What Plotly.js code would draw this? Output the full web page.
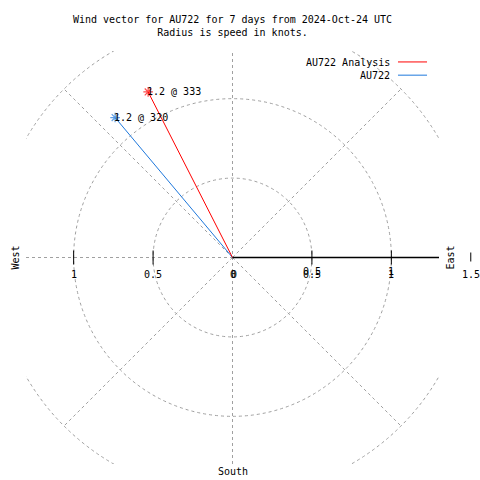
<!DOCTYPE html>
<html>
<head>
<meta charset="utf-8">
<script src="https://cdn.plot.ly/plotly-3.0.1.min.js"></script>
<style>html,body{margin:0;padding:0;background:#fff;}#chart{width:480px;height:480px;}</style>
</head>
<body>
<div id="chart"></div>
<script>
// ---- data ----
const seriesNames = ['AU722 Analysis', 'AU722'];
const directions = [333, 320];          // degrees, clockwise from north
const speeds = [1.17, 1.15];            // knots
const pointLabels = ['1.2 @ 333', '1.2 @ 320'];
const tickValues = [-1, -0.5, 0, 0.5, 1, 1.5];
const tickLabels = ['1', '0.5', '0', '0.5', '1', '1.5'];
const compassLabels = ['West', 'East', 'South'];
const gridRadii = [0.5, 1, 1.5];
const spokeAngles = [45, 135, 225, 315];
const titleLines = ['Wind vector for AU722 for 7 days from 2024-Oct-24 UTC', 'Radius is speed in knots.'];

// ---- styles ----
const colors = ['#ff0000', '#1e78dc'];
const FONT = 'DejaVu Sans Mono, Liberation Mono, monospace';
const gridLine = {color: '#a0a0a0', width: 1, dash: '3px,3px'};
const R = 1.3;
const PLOT_PX = 413;

function toXY(dir, r) {
  const t = dir * Math.PI / 180;
  return [r * Math.sin(t), r * Math.cos(t)];
}
// data x -> paper fraction (for items outside the plotted range)
function toPaperX(v) { return (v + R) / (2 * R); }

const traces = [];
const order = [1, 0];
order.forEach(i => {
  const [ex, ey] = toXY(directions[i], speeds[i]);
  traces.push({
    type: 'scatter', mode: 'lines+markers',
    x: [0, ex], y: [0, ey],
    line: {color: colors[i], width: 1},
    marker: {symbol: 'asterisk-open', size: [0, 8], color: colors[i], line: {color: colors[i], width: 1.2}},
    name: seriesNames[i], showlegend: false, hoverinfo: 'skip'
  });
});

const inRange = tickValues.filter(v => v !== 0 && Math.abs(v) <= R);
const outRange = tickValues.filter(v => Math.abs(v) > R);
// tick marks on the horizontal axis
traces.push({
  type: 'scatter', mode: 'markers',
  x: inRange, y: inRange.map(() => 0),
  marker: {symbol: 'line-ns-open', size: 10, color: '#000', line: {color: '#000', width: 1}},
  cliponaxis: false, showlegend: false, hoverinfo: 'skip'
});

const shapes = [];
gridRadii.forEach(r => shapes.push({type: 'circle', xref: 'x', yref: 'y', x0: -r, x1: r, y0: -r, y1: r, line: gridLine, layer: 'below'}));
spokeAngles.forEach(a => {
  const [x1, y1] = toXY(a, gridRadii[gridRadii.length - 1]);
  shapes.push({type: 'line', xref: 'x', yref: 'y', x0: 0, y0: 0, x1: x1, y1: y1, line: gridLine, layer: 'below'});
});
shapes.push({type: 'line', xref: 'x', yref: 'y', x0: 0, x1: 0, y0: -R, y1: R, line: gridLine, layer: 'below'});
shapes.push({type: 'line', xref: 'x', yref: 'y', x0: -R, x1: 0, y0: 0, y1: 0, line: gridLine, layer: 'below'});
// solid positive radial axis
shapes.push({type: 'line', xref: 'x', yref: 'y', x0: 0, x1: R, y0: 0, y1: 0, line: {color: '#000', width: 1.5}});
// tick marks beyond the plotted range
outRange.forEach(v => {
  shapes.push({type: 'line', xref: 'paper', yref: 'paper', x0: toPaperX(v), x1: toPaperX(v),
    y0: 0.5 - 4 / PLOT_PX, y1: 0.5 + 5 / PLOT_PX, line: {color: '#000', width: 1}});
});

const annotations = [];
const tf = {family: FONT, size: 10, color: '#000'};
// tick labels (right side drawn twice as in the original)
tickValues.forEach((v, i) => {
  const out = Math.abs(v) > R;
  annotations.push({x: out ? toPaperX(v) : v, y: out ? 0.5 : 0, xref: out ? 'paper' : 'x', yref: out ? 'paper' : 'y',
    text: tickLabels[i], showarrow: false, xanchor: 'center', yanchor: 'middle', yshift: -17, font: tf});
  if (v >= 0 && v < 1.5) {
    annotations.push({x: v, y: 0, xref: 'x', yref: 'y', text: tickLabels[i], showarrow: false,
      xanchor: 'center', yanchor: 'middle', yshift: v === 0 ? -17 : -14, xshift: v === 0 ? 1 : 0, font: tf});
  }
});
// compass labels
annotations.push({x: -R, y: 0, xref: 'x', yref: 'y', text: compassLabels[0], showarrow: false, textangle: -90, xshift: -11, font: tf});
annotations.push({x: R, y: 0, xref: 'x', yref: 'y', text: compassLabels[1], showarrow: false, textangle: -90, xshift: 11, font: tf});
annotations.push({x: 0, y: -R, xref: 'x', yref: 'y', text: compassLabels[2], showarrow: false, yshift: -7, font: tf});
// point labels
order.forEach(i => {
  const [ex, ey] = toXY(directions[i], speeds[i]);
  annotations.push({x: ex, y: ey, xref: 'x', yref: 'y', text: pointLabels[i], showarrow: false,
    xanchor: 'left', yanchor: 'middle', xshift: -3, font: tf});
});
// legend (text on left, sample line on right, gnuplot style)
const legY = [0.9715, 0.9395];
seriesNames.forEach((n, i) => {
  annotations.push({x: 0.885, y: legY[i], xref: 'paper', yref: 'paper', text: n, showarrow: false,
    xanchor: 'right', yanchor: 'middle', font: tf});
  shapes.push({type: 'line', xref: 'paper', yref: 'paper', x0: 0.9007, x1: 0.971, y0: legY[i] + 0.002, y1: legY[i] + 0.002,
    line: {color: colors[i], width: 1}});
});

const layout = {
  width: 480, height: 480,
  margin: {l: 26, r: 41, t: 51, b: 16, pad: 0},
  paper_bgcolor: '#fff', plot_bgcolor: '#fff',
  title: {text: titleLines.join('<br>'), x: 0.5, xref: 'paper', xanchor: 'center',
    y: 1 - 23 / 480, yref: 'container', yanchor: 'top', font: {family: FONT, size: 10, color: '#000'}},
  xaxis: {range: [-R, R], visible: false, fixedrange: true},
  yaxis: {range: [-R, R], visible: false, fixedrange: true},
  shapes: shapes,
  annotations: annotations,
  showlegend: false,
  font: tf
};

Plotly.newPlot('chart', traces, layout, {staticPlot: true, displayModeBar: false});
</script>
</body>
</html>
